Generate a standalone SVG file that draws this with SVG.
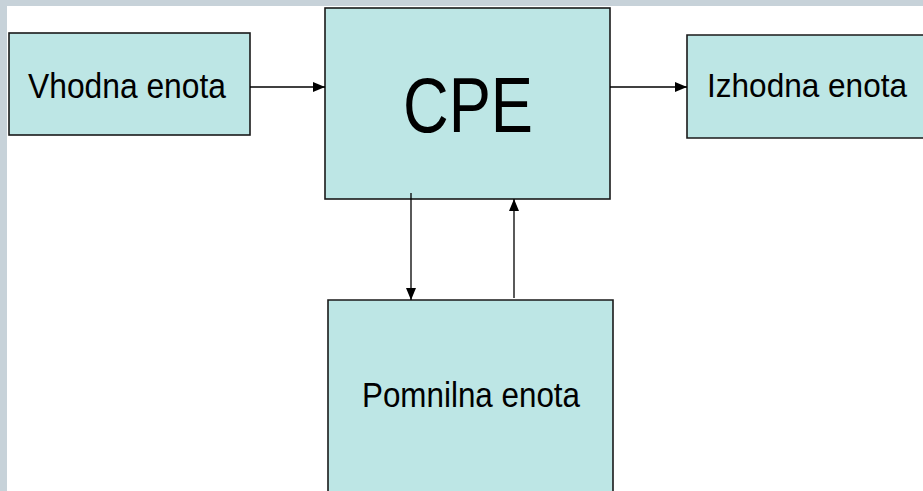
<svg xmlns="http://www.w3.org/2000/svg" width="923" height="491" viewBox="0 0 923 491">
<style>
.box{fill:#bde6e5;stroke:#1a1a1a;stroke-width:1.6}
.fill{fill:#bde6e5}
.edge{fill:none;stroke:#1a1a1a;stroke-width:1.6}
.lbl{font-family:"Liberation Sans",Arial,sans-serif;fill:#000}
.con{stroke:#000;stroke-width:1.3;fill:none;marker-end:url(#ah)}
</style>
<defs>
<marker id="ah" viewBox="0 0 12 12" refX="12" refY="6" markerWidth="12" markerHeight="12" markerUnits="userSpaceOnUse" orient="auto">
<path d="M0,1 L12,6 L0,11 Z" fill="#000"/>
</marker>
</defs>
<rect x="0" y="0" width="923" height="491" fill="#fff"/>
<rect x="0" y="0" width="923" height="6" fill="#c7d2d9"/>
<rect x="0" y="0" width="7" height="491" fill="#c7d2d9"/>
<g id="vhodna">
<rect class="box" x="9" y="33" width="241" height="102"/>
<text class="lbl" x="28" y="98" font-size="35.5" textLength="198" lengthAdjust="spacingAndGlyphs">Vhodna enota</text>
</g>
<g id="cpe">
<rect class="box" x="325" y="8" width="285" height="191"/>
<text class="lbl" x="403" y="132" font-size="77" textLength="130" lengthAdjust="spacingAndGlyphs">CPE</text>
</g>
<g id="izhodna">
<rect class="fill" x="687" y="35" width="236" height="103"/>
<path class="edge" d="M923,35 H687 V138 H923"/>
<text class="lbl" x="707" y="97" font-size="33.5" textLength="200" lengthAdjust="spacingAndGlyphs">Izhodna enota</text>
</g>
<g id="pomnilna">
<rect class="fill" x="328" y="300" width="285" height="191"/>
<path class="edge" d="M328,491 V300 H613 V491"/>
<text class="lbl" x="362" y="407" font-size="35" textLength="218" lengthAdjust="spacingAndGlyphs">Pomnilna enota</text>
</g>
<g id="connectors">
<line class="con" x1="250" y1="87" x2="325" y2="87"/>
<line class="con" x1="610" y1="87" x2="687" y2="87"/>
<line class="con" x1="411" y1="193" x2="411" y2="300"/>
<line class="con" x1="514" y1="298" x2="514" y2="199"/>
</g>
</svg>
